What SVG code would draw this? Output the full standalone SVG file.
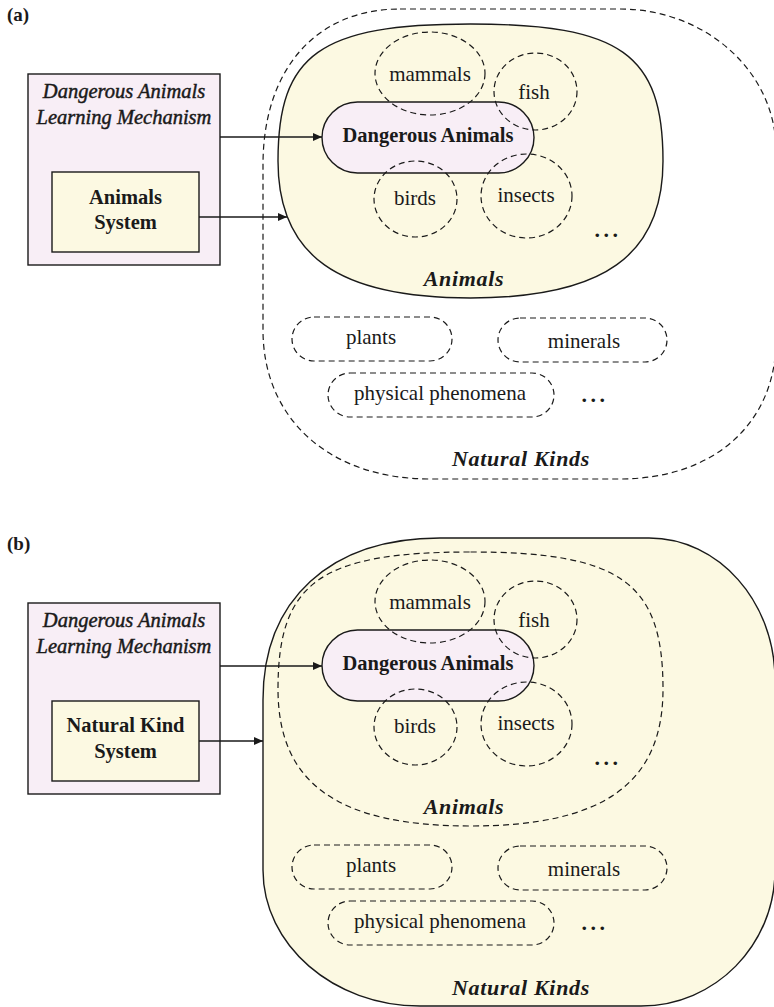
<svg xmlns="http://www.w3.org/2000/svg" width="774" height="1007" viewBox="0 0 774 1007">
<style>
  .solid { fill: none; stroke: #1a1a1a; stroke-width: 1.4; }
  .dash { fill: none; stroke: #1a1a1a; stroke-width: 1.2; stroke-dasharray: 6 4; }
  .yellow { fill: #fcf9e2; }
  .pink { fill: #f8eef6; }
  .conn { fill: none; stroke: #1a1a1a; stroke-width: 1.4; }
  text { font-family: "Liberation Serif", "Times New Roman", serif; fill: #1a1a1a; text-anchor: middle; }
  .reg { font-size: 21px; }
  .bold { font-size: 20.5px; font-weight: bold; }
  .ital { font-size: 20.5px; font-style: italic; stroke: #1a1a1a; stroke-width: 0.45; }
  .label { font-size: 22px; font-style: italic; font-weight: bold; letter-spacing: 0.7px; }
  .dots { font-size: 22px; font-weight: bold; letter-spacing: 3.5px; }
  .panel { font-size: 19px; font-weight: bold; text-anchor: start; }
</style>
<defs>
  <marker id="arrow" markerWidth="9" markerHeight="8" refX="9" refY="4" orient="auto" markerUnits="userSpaceOnUse">
    <path d="M0,0 L9,4 L0,8 Z" fill="#1a1a1a"/>
  </marker>
  <path id="animalsShape" d="M470.5,24 C620.7,24 663,54.1 663,161 C663,255.5 603.3,298 470.5,298 C337.7,298 278,255.5 278,161 C278,54.1 320.3,24 470.5,24 Z"/>
</defs>

<!-- ================= Panel (a) ================= -->
<text class="panel" x="7" y="21">(a)</text>

<g id="a-natural-kinds">
  <path class="dash" d="M400,9 L620,9 C706,9 776,72.2 776,150 L776,340 C776,423.4 713.6,479 620,479 L430,479 C330,479 263,419.4 263,330 L263,165 C263,69.4 316,9 400,9 Z"/>
  <text class="label" x="521" y="466">Natural Kinds</text>
</g>

<g id="a-animals">
  <use href="#animalsShape" class="yellow"/>
  <use href="#animalsShape" class="solid"/>
  <text class="label" x="464" y="286">Animals</text>
</g>

<g id="a-dangerous-animals">
  <rect class="pink" x="322" y="102" width="212" height="71" rx="35.5"/>
  <rect class="solid" x="322" y="102" width="212" height="71" rx="35.5"/>
  <text class="bold" x="428" y="142">Dangerous Animals</text>
</g>

<g id="a-mammals">
  <ellipse class="dash" cx="430" cy="73.5" rx="55" ry="41.5"/>
  <text class="reg" x="430" y="81">mammals</text>
</g>
<g id="a-fish">
  <ellipse class="dash" cx="535.5" cy="91.5" rx="41.5" ry="38.5"/>
  <text class="reg" x="534" y="99">fish</text>
</g>
<g id="a-birds">
  <ellipse class="dash" cx="415.5" cy="199" rx="41.5" ry="38"/>
  <text class="reg" x="415" y="205">birds</text>
</g>
<g id="a-insects">
  <ellipse class="dash" cx="526.5" cy="196" rx="45.5" ry="42"/>
  <text class="reg" x="526" y="202">insects</text>
</g>
<text class="dots" x="608" y="237">...</text>

<g id="a-plants">
  <rect class="dash" x="292" y="317" width="160" height="44" rx="22"/>
  <text class="reg" x="371" y="344">plants</text>
</g>
<g id="a-minerals">
  <rect class="dash" x="498" y="318" width="169" height="44" rx="22"/>
  <text class="reg" x="584" y="348">minerals</text>
</g>
<g id="a-physical-phenomena">
  <rect class="dash" x="328" y="373" width="226" height="44" rx="22"/>
  <text class="reg" x="440" y="400">physical phenomena</text>
</g>
<text class="dots" x="595" y="402">...</text>

<g id="a-learning-mechanism">
  <rect class="pink" x="28" y="74" width="192" height="191"/>
  <rect class="solid" x="28" y="74" width="192" height="191"/>
  <text class="ital" x="124" y="98">Dangerous Animals</text>
  <text class="ital" x="124" y="124">Learning Mechanism</text>
</g>
<g id="a-animals-system">
  <rect class="yellow" x="52" y="172" width="147" height="80"/>
  <rect class="solid" x="52" y="172" width="147" height="80"/>
  <text class="bold" x="125.5" y="204">Animals</text>
  <text class="bold" x="125.5" y="229">System</text>
</g>

<!-- ================= Panel (b) ================= -->
<text class="panel" x="7" y="550">(b)</text>

<g id="b-natural-kinds">
  <path class="yellow" d="M440,538 L649,538 C718.6,538 775,601.6 775,680 L775,870 C775,945 715,1006 641,1006 L420,1006 C333.3,1006 263,945 263,870 L263,700 C263,600 330,538 440,538 Z"/>
  <path class="solid" d="M440,538 L649,538 C718.6,538 775,601.6 775,680 L775,870 C775,945 715,1006 641,1006 L420,1006 C333.3,1006 263,945 263,870 L263,700 C263,600 330,538 440,538 Z"/>
  <text class="label" x="521" y="995">Natural Kinds</text>
</g>

<g id="b-animals">
  <use href="#animalsShape" class="dash" transform="translate(0,528)"/>
  <text class="label" x="464" y="814">Animals</text>
</g>

<g id="b-dangerous-animals">
  <rect class="pink" x="322" y="630" width="212" height="71" rx="35.5"/>
  <rect class="solid" x="322" y="630" width="212" height="71" rx="35.5"/>
  <text class="bold" x="428" y="670">Dangerous Animals</text>
</g>

<g id="b-mammals">
  <ellipse class="dash" cx="430" cy="601.5" rx="55" ry="41.5"/>
  <text class="reg" x="430" y="609">mammals</text>
</g>
<g id="b-fish">
  <ellipse class="dash" cx="535.5" cy="619.5" rx="41.5" ry="38.5"/>
  <text class="reg" x="534" y="627">fish</text>
</g>
<g id="b-birds">
  <ellipse class="dash" cx="415.5" cy="727" rx="41.5" ry="38"/>
  <text class="reg" x="415" y="733">birds</text>
</g>
<g id="b-insects">
  <ellipse class="dash" cx="526.5" cy="724" rx="45.5" ry="42"/>
  <text class="reg" x="526" y="730">insects</text>
</g>
<text class="dots" x="608" y="765">...</text>

<g id="b-plants">
  <rect class="dash" x="292" y="845" width="160" height="44" rx="22"/>
  <text class="reg" x="371" y="872">plants</text>
</g>
<g id="b-minerals">
  <rect class="dash" x="498" y="846" width="169" height="44" rx="22"/>
  <text class="reg" x="584" y="876">minerals</text>
</g>
<g id="b-physical-phenomena">
  <rect class="dash" x="328" y="901" width="226" height="44" rx="22"/>
  <text class="reg" x="440" y="928">physical phenomena</text>
</g>
<text class="dots" x="595" y="930">...</text>

<g id="b-learning-mechanism">
  <rect class="pink" x="28" y="603" width="192" height="191"/>
  <rect class="solid" x="28" y="603" width="192" height="191"/>
  <text class="ital" x="124" y="627">Dangerous Animals</text>
  <text class="ital" x="124" y="653">Learning Mechanism</text>
</g>
<g id="b-natural-kind-system">
  <rect class="yellow" x="52" y="701" width="147" height="80"/>
  <rect class="solid" x="52" y="701" width="147" height="80"/>
  <text class="bold" x="125.5" y="732">Natural Kind</text>
  <text class="bold" x="125.5" y="758">System</text>
</g>

<!-- ================= Connectors ================= -->
<g id="connectors">
  <line class="conn" x1="220" y1="137" x2="322" y2="137" marker-end="url(#arrow)"/>
  <line class="conn" x1="199" y1="217" x2="287" y2="217" marker-end="url(#arrow)"/>
  <line class="conn" x1="220" y1="666" x2="322" y2="666" marker-end="url(#arrow)"/>
  <line class="conn" x1="199" y1="741" x2="263" y2="741" marker-end="url(#arrow)"/>
</g>
</svg>
